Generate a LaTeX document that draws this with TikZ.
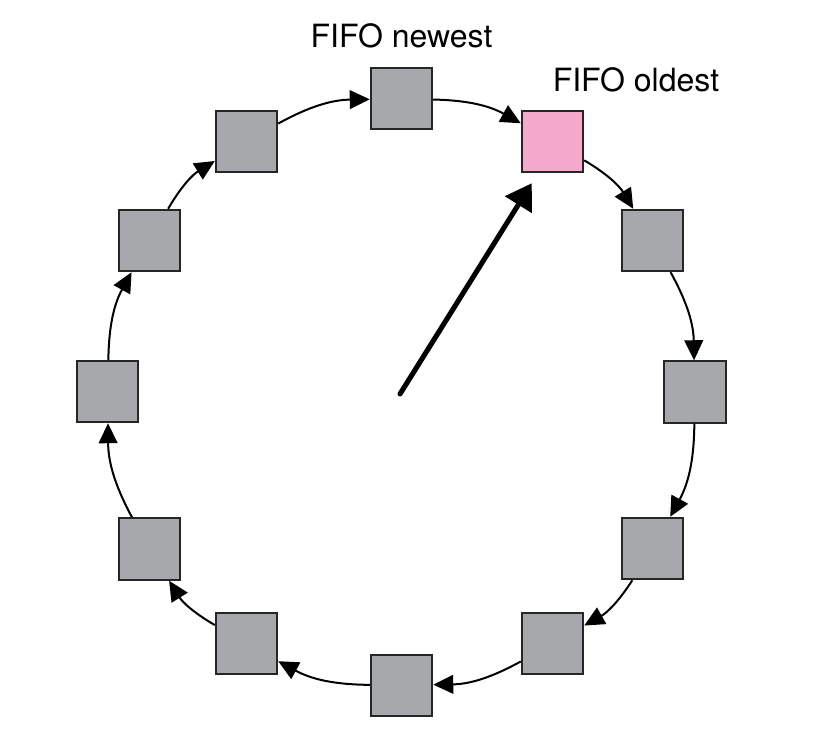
\documentclass[tikz,border=0pt]{standalone}
\usepackage{fontspec}
\setmainfont{TeX Gyre Heros}
\usepackage{tikz}
\usetikzlibrary{arrows.meta, positioning, calc}

\definecolor{slotgray}{RGB}{167,168,172}
\definecolor{slotpink}{RGB}{245,170,205}

\tikzset{
	slot/.style={draw=black!85, line width=1.6pt, fill=slotgray, minimum size=46pt, inner sep=0pt},
	oldslot/.style={slot, fill=slotpink},
	link/.style={line width=1.5pt, -{Triangle[length=15pt, width=14pt]}, bend left=14},
	hand/.style={line width=3.8pt, -{Triangle[length=19pt, width=23pt]}},
	lbl/.style={inner sep=0pt, font=\fontsize{24}{28}\selectfont}
}

\begin{document}
\begin{tikzpicture}[x=0.75pt, y=0.75pt]
	\useasboundingbox (0,0) rectangle (834,740);
	% ring of slots, clockwise from the top
	\node[slot] (s0) at (401.5,641.5) {};
	\node[oldslot] (s1) at (552.5,598.5) {};
	\node[slot] (s2) at (652.5,499.5) {};
	\node[slot] (s3) at (695,348) {};
	\node[slot] (s4) at (652.5,191.5) {};
	\node[slot] (s5) at (552.5,96.5) {};
	\node[slot] (s6) at (401.5,54.5) {};
	\node[slot] (s7) at (246.5,96.5) {};
	\node[slot] (s8) at (149.5,191) {};
	\node[slot] (s9) at (107.5,348.5) {};
	\node[slot] (s10) at (149.5,499.5) {};
	\node[slot] (s11) at (246.5,598.5) {};

	\node[lbl, above=13.5pt of s0] (newest) {FIFO newest};
	\node[lbl, anchor=south west] (oldest) at ([yshift=12.75pt]s1.north) {FIFO oldest};

	\draw[link] (s0) to (s1);
	\draw[link] (s1) to (s2);
	\draw[link] (s2) to (s3);
	\draw[link] (s3) to (s4);
	\draw[link] (s4) to (s5);
	\draw[link] (s5) to (s6);
	\draw[link] (s6) to (s7);
	\draw[link] (s7) to (s8);
	\draw[link] (s8) to (s9);
	\draw[link] (s9) to (s10);
	\draw[link] (s10) to (s11);
	\draw[link] (s11) to (s0);

	% the pointer
	\coordinate (hub) at (400,346);
	\coordinate (tip) at ([shift={(8.25pt,-7.5pt)}]s1.south west);
	\draw[hand, line cap=round] (hub) -- (tip);
\end{tikzpicture}
\end{document}
